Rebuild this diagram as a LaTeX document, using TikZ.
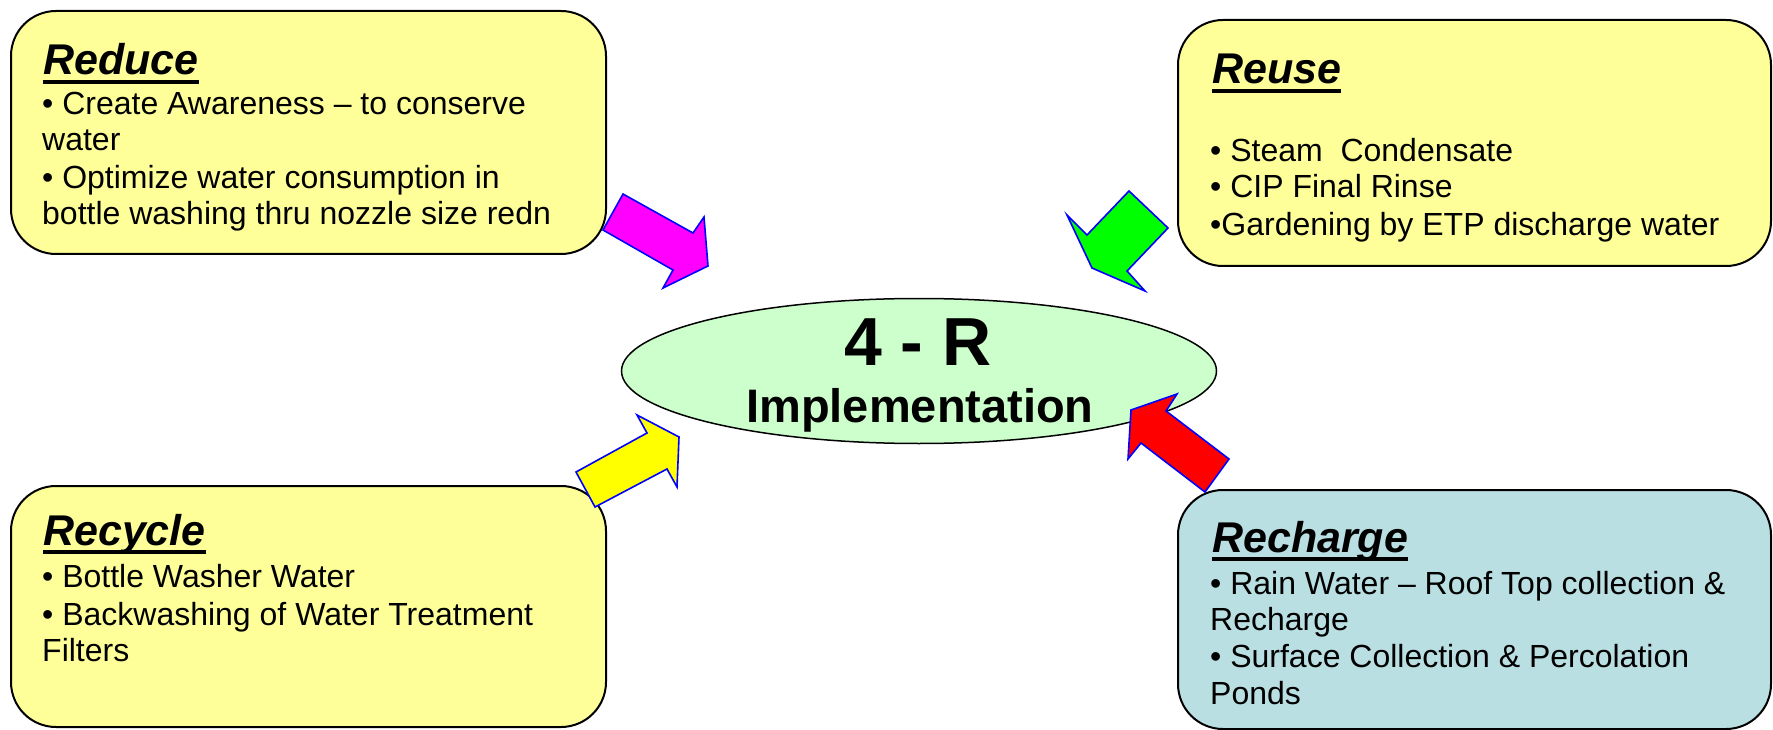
\documentclass[tikz,border=0pt]{standalone}
\usepackage{fontspec}
\setmainfont{Liberation Sans}
\usetikzlibrary{shapes.geometric}
\definecolor{boxyellow}{HTML}{FFFF99}
\definecolor{boxteal}{HTML}{B9DFE3}
\definecolor{ellgreen}{HTML}{CCFFCC}
\definecolor{armag}{HTML}{FF00FF}
\definecolor{argreen}{HTML}{00FF00}
\definecolor{aryellow}{HTML}{FFFF00}
\definecolor{arred}{HTML}{FF0000}
\definecolor{arblue}{HTML}{0000FF}
\tikzset{
  rbox/.style={draw=black, line width=2pt, rounded corners=45pt},
  ttl/.style={anchor=base west, inner sep=0pt, font=\fontsize{43}{50}\selectfont\bfseries\itshape},
  bodyline/.style={anchor=base west, inner sep=0pt, font=\fontsize{32}{37}\selectfont},
  ulin/.style={line width=3.5pt, black},
  barrow/.style={draw=arblue, line width=1.6pt, line join=miter},
}
\begin{document}
\begin{tikzpicture}[x=1pt, y=-1pt]
\useasboundingbox (0,0) rectangle (1773,730);
% boxes
\draw[rbox, fill=boxyellow] (11,11) rectangle (606,254);
\draw[rbox, fill=boxyellow] (1178,20) rectangle (1771,266);
\draw[rbox, fill=boxyellow] (11,486) rectangle (606,727);
\draw[rbox, fill=boxteal] (1178,490) rectangle (1771,729);
% ellipse
\node[ellipse, draw=black, line width=1.5pt, fill=ellgreen, minimum width=595pt, minimum height=145pt, inner sep=0pt] (core) at (919,371) {};
\node[anchor=base, inner sep=0pt, font=\fontsize{68}{75}\selectfont\bfseries] (fourr) at (918,365) {4 - R};
\node[anchor=base, inner sep=0pt, font=\fontsize{47}{55}\selectfont\bfseries] (impl) at (920,422) {Implementation};
% Reduce
\node[ttl] (reduce) at (43,75) {Reduce};
\draw[ulin] ([yshift=-7pt]reduce.base west) -- ([yshift=-7pt]reduce.base east);
\node[bodyline] (rd1) at (42,115) {• Create Awareness – to conserve};
\node[bodyline] (rd2) at (42,151) {water};
\node[bodyline] (rd3) at (42,189) {• Optimize water consumption in};
\node[bodyline] (rd4) at (42,225) {bottle washing thru nozzle size redn};
% Reuse
\node[ttl] (reuse) at (1212,84) {Reuse};
\draw[ulin] ([yshift=-7pt]reuse.base west) -- ([yshift=-7pt]reuse.base east);
\node[bodyline] (ru1) at (1210,162) {• Steam\ \ Condensate};
\node[bodyline] (ru2) at (1210,198) {• CIP Final Rinse};
\node[bodyline] (ru3) at (1210,236) {•Gardening by ETP discharge water};
% Recycle
\node[ttl] (recycle) at (43,545) {Recycle};
\draw[ulin] ([yshift=-7pt]recycle.base west) -- ([yshift=-7pt]recycle.base east);
\node[bodyline] (rc1) at (42,587) {• Bottle Washer Water};
\node[bodyline] (rc2) at (42,625) {• Backwashing of Water Treatment};
\node[bodyline] (rc3) at (42,661) {Filters};
% Recharge
\node[ttl] (recharge) at (1212,552) {Recharge};
\draw[ulin] ([yshift=-7pt]recharge.base west) -- ([yshift=-7pt]recharge.base east);
\node[bodyline] (rh1) at (1210,594) {• Rain Water – Roof Top collection \&};
\node[bodyline] (rh2) at (1210,630) {Recharge};
\node[bodyline] (rh3) at (1210,667) {• Surface Collection \& Percolation};
\node[bodyline] (rh4) at (1210,704) {Ponds};
% block arrows
\draw[barrow, fill=armag] (623,194) -- (693,233) -- (704,217) -- (708,266) -- (663,288) -- (673,270) -- (603,230) -- cycle;
\draw[barrow, fill=argreen] (1129,191) -- (1168,228) -- (1127,271) -- (1145,291) -- (1092,268) -- (1067,215) -- (1087,235) -- cycle;
\draw[barrow, fill=aryellow] (576,472) -- (647,433) -- (637,415) -- (679,437) -- (677,487) -- (667,469) -- (595,507) -- cycle;
\draw[barrow, fill=arred] (1229,459) -- (1166,411) -- (1177,394) -- (1131,410) -- (1128,459) -- (1141,443) -- (1205,492) -- cycle;
\end{tikzpicture}
\end{document}
